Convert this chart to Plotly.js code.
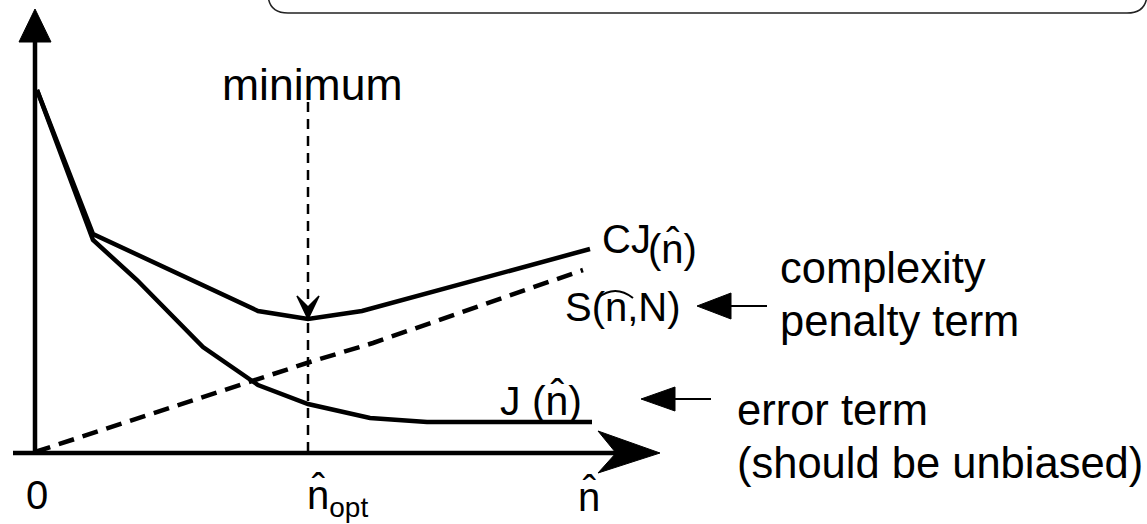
<!DOCTYPE html>
<html>
<head>
<meta charset="utf-8">
<script src="https://cdn.plot.ly/plotly-3.0.1.min.js"></script>
<style>html,body{margin:0;padding:0;background:#fff;}#chart{width:1147px;height:524px;}</style>
</head>
<body>
<div id="chart"></div>
<script>
// Schematic model-order selection chart (units: arbitrary, origin at axis crossing)
var cjOrder = [2, 58, 223, 273, 327, 555];
var cjValue = [362, 218, 141, 133, 141, 203];

var jOrder = [2, 58, 102, 168, 223, 273, 335, 392, 557];
var jValue = [362, 212, 172, 105, 67, 48, 34, 30, 30];

var sOrder = [0, 215, 275, 338, 548];
var sValue = [0, 70, 90, 109, 182];

var nOpt = 273;          // optimal order (minimum of CJ)
var minLabelTop = 355;   // top of the vertical dashed marker
var xAxisEnd = 625;      // tip of the x-axis arrow
var yAxisEnd = 443;      // tip of the y-axis arrow

var fontFam = 'Liberation Sans, Arial, sans-serif';
var fsBig = 43.5;
var fs = 40;

var traces = [
  {x: cjOrder, y: cjValue, mode: 'lines', line: {color: '#000', width: 4.5}, hoverinfo: 'skip'},
  {x: jOrder, y: jValue, mode: 'lines', line: {color: '#000', width: 4.5}, hoverinfo: 'skip'},
  {x: sOrder, y: sValue, mode: 'lines', line: {color: '#000', width: 4.5, dash: '16px,9px'}, hoverinfo: 'skip'},
  {x: [nOpt, nOpt], y: [0, minLabelTop], mode: 'lines', line: {color: '#000', width: 2.5, dash: '10px,7px'}, hoverinfo: 'skip'}
];

function P(pts){ return 'M' + pts.map(function(p){return p[0]+','+p[1];}).join(' L') + ' Z'; }
var cjMin = Math.min.apply(null, cjValue);

var shapes = [
  // y axis
  {type:'line', x0:0, y0:-2, x1:0, y1:yAxisEnd-33, line:{color:'#000', width:4.5}},
  {type:'path', path:P([[0,yAxisEnd],[-16,yAxisEnd-33],[16,yAxisEnd-33]]), fillcolor:'#000', line:{color:'#000', width:1}},
  // x axis
  {type:'line', x0:-22, y0:-1, x1:xAxisEnd-40, y1:-1, line:{color:'#000', width:4.5}},
  {type:'path', path:P([[xAxisEnd,-1],[xAxisEnd-62,21],[xAxisEnd-44,-1],[xAxisEnd-62,-21]]), fillcolor:'#000', line:{color:'#000', width:1}},
  // minimum arrowhead
  {type:'path', path:P([[nOpt,cjMin],[nOpt-11,cjMin+23],[nOpt,cjMin+12],[nOpt+11,cjMin+23]]), fillcolor:'#000', line:{color:'#000', width:1.5}},
  // wide hat over n in S(n,N)
  {type:'path', path:'M563,154 Q580,168 598,154', line:{color:'#000', width:2}},
  // pointer arrows
  {type:'line', x0:694, y0:146, x1:732, y1:146, line:{color:'#000', width:2}},
  {type:'path', path:P([[662,146],[696,159],[696,133]]), fillcolor:'#000', line:{color:'#000', width:1}},
  {type:'line', x0:638, y0:53, x1:676, y1:53, line:{color:'#000', width:2}},
  {type:'path', path:P([[606,53],[640,65],[640,41]]), fillcolor:'#000', line:{color:'#000', width:1}},
  // rounded frame at the top
  {type:'path', path:'M233,540 L233,459 Q233,439 253,439 L1092,439 Q1112,439 1112,459 L1112,540', line:{color:'#222', width:1.5}}
];

function A(text, x, y, xa, size){
  return {text:text, x:x, y:y, xref:'x', yref:'y', xanchor:xa||'left', yanchor:'middle', showarrow:false,
          font:{family:fontFam, size:size||fs, color:'#000'}, borderpad:0};
}
var annotations = [
  A('minimum', 277, 368, 'center', 44.5),
  A('0', 2, -42.5, 'center'),
  A('n\u0302<sub>opt</sub>', 271, -45, 'left'),
  A('n\u0302', 554, -44, 'center'),
  A('J (n\u0302)', 464, 51.5, 'left', 41),
  A('CJ', 566, 213.5, 'left'),
  A('(n\u0302)', 612, 204, 'left'),
  A('S(n,N)', 529, 145.5, 'left'),
  A('complexity', 744, 184.5, 'left', fsBig),
  A('penalty term', 744, 131.5, 'left', fsBig),
  A('error term', 701, 42.5, 'left', fsBig),
  A('(should be unbiased)', 701, -10.5, 'left', fsBig)
];

var layout = {
  width: 1147, height: 524,
  margin: {l:0, r:0, t:0, b:0},
  paper_bgcolor: '#fff', plot_bgcolor: '#fff',
  showlegend: false,
  xaxis: {range:[-35, 1112], visible:false, fixedrange:true},
  yaxis: {range:[-72, 452], visible:false, fixedrange:true},
  shapes: shapes,
  annotations: annotations
};
Plotly.newPlot('chart', traces, layout, {staticPlot:true, displayModeBar:false});
</script>
</body>
</html>
